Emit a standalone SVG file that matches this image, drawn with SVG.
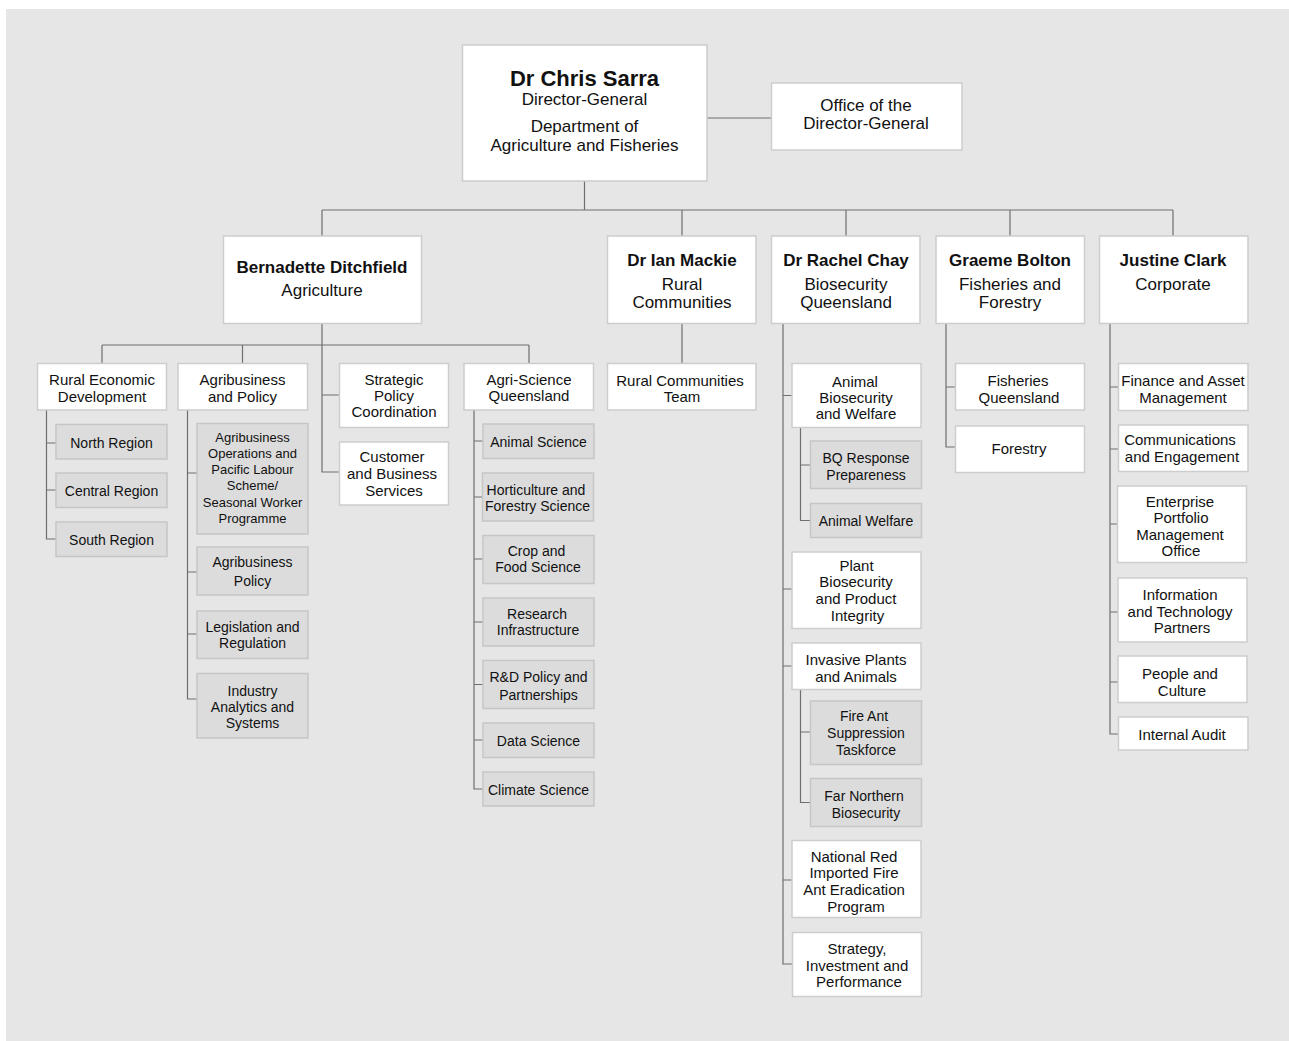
<svg xmlns="http://www.w3.org/2000/svg" width="1289" height="1041" viewBox="0 0 1289 1041">
<style>
text{font-family:"Liberation Sans",Arial,sans-serif;fill:#111;text-anchor:middle;dominant-baseline:central}
.w{fill:#fff;stroke:#cdcdcd;stroke-width:1.5}
.g{fill:#dcdcdc;stroke:#c6c6c6;stroke-width:1.5}
.c path{fill:none;stroke:#6e6e6e;stroke-width:1.2}
.b22{font-size:22px;font-weight:bold}
.b17{font-size:17px;font-weight:bold}
.t17{font-size:17px}
.t15{font-size:15px}
.t14{font-size:14px}
.t13{font-size:13px}
</style>
<rect x="6" y="9" width="1283" height="1032" fill="#e6e6e6"/>
<g class="c" id="connectors">
<path d="M707 118H771"/>
<path d="M584.5 181V210M322 210H1173M322 210V236M682 210V236M846 210V236M1010 210V236M1173 210V236"/>
<path d="M322 323V472H339M102 345H529M102 345V363M242.5 345V363M529 345V363M322 395H339"/>
<path d="M46.5 410V539H56M46.5 443H56M46.5 490H56"/>
<path d="M187.5 410V699H197M187.5 473H197M187.5 572H197M187.5 634H197"/>
<path d="M474 410V789H483M474 441H483M474 497H483M474 559H483M474 622H483M474 684.5H483M474 740H483"/>
<path d="M682 323V363"/>
<path d="M783 323V964H792M783 395.5H792M783 589H792M783 666H792M783 880H792"/>
<path d="M800.5 427V520.5H810M800.5 465H810"/>
<path d="M800.5 690V802.5H810M800.5 732H810"/>
<path d="M946 323V447H955M946 387H955"/>
<path d="M1110 323V734H1118M1110 387H1118M1110 449H1118M1110 524H1118M1110 612H1118M1110 682H1118"/>
</g>
<g id="dg"><rect class="w" x="462.5" y="45" width="244.5" height="136"/>
<text class="b22" x="584.5" y="78.5">Dr Chris Sarra</text>
<text class="t17" x="584.5" y="99">Director-General</text>
<text class="t17" x="584.5" y="126">Department of</text>
<text class="t17" x="584.5" y="145">Agriculture and Fisheries</text></g>
<g id="office"><rect class="w" x="771.5" y="83" width="190.5" height="67"/>
<text class="t17" x="866" y="105">Office of the</text>
<text class="t17" x="866" y="123">Director-General</text></g>
<g id="bernadette"><rect class="w" x="223.5" y="236" width="198" height="87.5"/>
<text class="b17" x="322" y="267">Bernadette Ditchfield</text>
<text class="t17" x="322" y="290">Agriculture</text></g>
<g id="ian"><rect class="w" x="607.5" y="236" width="148.5" height="87.5"/>
<text class="b17" x="682" y="260.5">Dr Ian Mackie</text>
<text class="t17" x="682" y="284">Rural</text>
<text class="t17" x="682" y="302">Communities</text></g>
<g id="rachel"><rect class="w" x="771.5" y="236" width="148.5" height="87.5"/>
<text class="b17" x="846" y="260.5">Dr Rachel Chay</text>
<text class="t17" x="846" y="284">Biosecurity</text>
<text class="t17" x="846" y="302">Queensland</text></g>
<g id="graeme"><rect class="w" x="936" y="236" width="148.5" height="87.5"/>
<text class="b17" x="1010" y="260.5">Graeme Bolton</text>
<text class="t17" x="1010" y="284">Fisheries and</text>
<text class="t17" x="1010" y="302">Forestry</text></g>
<g id="justine"><rect class="w" x="1099.5" y="236" width="148.5" height="87.5"/>
<text class="b17" x="1173" y="260.5">Justine Clark</text>
<text class="t17" x="1173" y="284">Corporate</text></g>

<g id="red"><rect class="w" x="37.5" y="363.5" width="129" height="46.5"/>
<text class="t15" x="102" y="379">Rural Economic</text><text class="t15" x="102" y="396">Development</text></g>
<g id="north"><rect class="g" x="56" y="424.5" width="111" height="34.5"/><text class="t14" x="111.5" y="443">North Region</text></g>
<g id="central"><rect class="g" x="56" y="473" width="111" height="34.5"/><text class="t14" x="111.5" y="490.5">Central Region</text></g>
<g id="south"><rect class="g" x="56" y="522" width="111" height="34.5"/><text class="t14" x="111.5" y="540">South Region</text></g>

<g id="abp"><rect class="w" x="178" y="363.5" width="129.5" height="46.5"/>
<text class="t15" x="242.5" y="379">Agribusiness</text><text class="t15" x="242.5" y="396">and Policy</text></g>
<g id="abops"><rect class="g" x="197" y="423.5" width="111" height="110.5"/>
<text class="t13" x="252.5" y="437.5">Agribusiness</text><text class="t13" x="252.5" y="453.5">Operations and</text><text class="t13" x="252.5" y="469.5">Pacific Labour</text><text class="t13" x="252.5" y="485.5">Scheme/</text><text class="t13" x="252.5" y="502">Seasonal Worker</text><text class="t13" x="252.5" y="518">Programme</text></g>
<g id="abpol"><rect class="g" x="197" y="547" width="111" height="48"/>
<text class="t14" x="252.5" y="562">Agribusiness</text><text class="t14" x="252.5" y="581">Policy</text></g>
<g id="leg"><rect class="g" x="197" y="611" width="111" height="47.5"/>
<text class="t14" x="252.5" y="626.5">Legislation and</text><text class="t14" x="252.5" y="642.5">Regulation</text></g>
<g id="ind"><rect class="g" x="197" y="673.5" width="111" height="64.5"/>
<text class="t14" x="252.5" y="691">Industry</text><text class="t14" x="252.5" y="707">Analytics and</text><text class="t14" x="252.5" y="723">Systems</text></g>

<g id="spc"><rect class="w" x="339.5" y="363.5" width="109" height="64"/>
<text class="t15" x="394" y="379">Strategic</text><text class="t15" x="394" y="395.5">Policy</text><text class="t15" x="394" y="411.5">Coordination</text></g>
<g id="cbs"><rect class="w" x="339.5" y="442" width="109" height="63"/>
<text class="t15" x="392" y="456.5">Customer</text><text class="t15" x="392" y="473.5">and Business</text><text class="t15" x="394" y="490.5">Services</text></g>

<g id="asq"><rect class="w" x="464" y="363.5" width="129.5" height="46.5"/>
<text class="t15" x="529" y="379">Agri-Science</text><text class="t15" x="529" y="395.5">Queensland</text></g>
<g id="as1"><rect class="g" x="483" y="424" width="111" height="34.5"/><text class="t14" x="538.5" y="442">Animal Science</text></g>
<g id="as2"><rect class="g" x="482.5" y="473" width="111" height="48"/><text class="t14" x="536" y="489.5">Horticulture and</text><text class="t14" x="537.5" y="505.5">Forestry Science</text></g>
<g id="as3"><rect class="g" x="483" y="535.5" width="111" height="48"/><text class="t14" x="536.5" y="551">Crop and</text><text class="t14" x="538" y="567">Food Science</text></g>
<g id="as4"><rect class="g" x="483" y="598" width="111" height="48"/><text class="t14" x="537" y="614">Research</text><text class="t14" x="538" y="630">Infrastructure</text></g>
<g id="as5"><rect class="g" x="483" y="660.5" width="111" height="48"/><text class="t14" x="538.5" y="677">R&amp;D Policy and</text><text class="t14" x="538.5" y="695">Partnerships</text></g>
<g id="as6"><rect class="g" x="483" y="723" width="111" height="34.5"/><text class="t14" x="538.5" y="740.5">Data Science</text></g>
<g id="as7"><rect class="g" x="483" y="772" width="111" height="34"/><text class="t14" x="538.5" y="790">Climate Science</text></g>

<g id="rct"><rect class="w" x="607.5" y="363.5" width="148.5" height="46.5"/>
<text class="t15" x="680" y="380">Rural Communities</text><text class="t15" x="682" y="396">Team</text></g>

<g id="abw"><rect class="w" x="792" y="363.5" width="129" height="64"/>
<text class="t15" x="855" y="381">Animal</text><text class="t15" x="856" y="397">Biosecurity</text><text class="t15" x="856" y="413.5">and Welfare</text></g>
<g id="bq"><rect class="g" x="810.5" y="441" width="111" height="47.5"/><text class="t14" x="866" y="458">BQ Response</text><text class="t14" x="866" y="475">Prepareness</text></g>
<g id="aw"><rect class="g" x="810.5" y="503.5" width="111" height="34"/><text class="t14" x="866" y="521">Animal Welfare</text></g>
<g id="pbpi"><rect class="w" x="792" y="552" width="129" height="76.5"/>
<text class="t15" x="856.5" y="565">Plant</text><text class="t15" x="856" y="581.5">Biosecurity</text><text class="t15" x="856" y="598">and Product</text><text class="t15" x="857.5" y="615">Integrity</text></g>
<g id="ipa"><rect class="w" x="792" y="643" width="129" height="46.5"/>
<text class="t15" x="856" y="659">Invasive Plants</text><text class="t15" x="856" y="676">and Animals</text></g>
<g id="fast"><rect class="g" x="810.5" y="701" width="111" height="63.5"/><text class="t14" x="864" y="716">Fire Ant</text><text class="t14" x="866" y="732.5">Suppression</text><text class="t14" x="866" y="750">Taskforce</text></g>
<g id="fnb"><rect class="g" x="810.5" y="778.5" width="111" height="48"/><text class="t14" x="864" y="796">Far Northern</text><text class="t14" x="866" y="812.5">Biosecurity</text></g>
<g id="nrifa"><rect class="w" x="792" y="840.5" width="129" height="77"/>
<text class="t15" x="854" y="856">National Red</text><text class="t15" x="854" y="872">Imported Fire</text><text class="t15" x="854" y="889">Ant Eradication</text><text class="t15" x="856" y="906.5">Program</text></g>
<g id="sip"><rect class="w" x="792.5" y="932.5" width="129" height="64"/>
<text class="t15" x="857" y="948">Strategy,</text><text class="t15" x="857" y="965">Investment and</text><text class="t15" x="859" y="981">Performance</text></g>

<g id="fq"><rect class="w" x="955.5" y="363.5" width="129" height="46.5"/>
<text class="t15" x="1018" y="380.5">Fisheries</text><text class="t15" x="1019" y="397">Queensland</text></g>
<g id="forestry"><rect class="w" x="955.5" y="426" width="129" height="46.5"/>
<text class="t15" x="1019" y="448.5">Forestry</text></g>

<g id="fam"><rect class="w" x="1118.5" y="363.5" width="129.5" height="47"/>
<text class="t15" x="1183" y="380.5">Finance and Asset</text><text class="t15" x="1183" y="397">Management</text></g>
<g id="ce"><rect class="w" x="1118.5" y="425" width="129.5" height="46.5"/>
<text class="t15" x="1180" y="439.5">Communications</text><text class="t15" x="1182" y="456.5">and Engagement</text></g>
<g id="epmo"><rect class="w" x="1117.5" y="486" width="129" height="76.5"/>
<text class="t15" x="1180" y="501">Enterprise</text><text class="t15" x="1181" y="517">Portfolio</text><text class="t15" x="1180" y="534">Management</text><text class="t15" x="1181" y="550">Office</text></g>
<g id="itp"><rect class="w" x="1118" y="578" width="129" height="64"/>
<text class="t15" x="1180" y="594">Information</text><text class="t15" x="1180" y="611">and Technology</text><text class="t15" x="1182" y="627">Partners</text></g>
<g id="pc"><rect class="w" x="1118" y="656" width="129" height="46.5"/>
<text class="t15" x="1180" y="673.5">People and</text><text class="t15" x="1182" y="690.5">Culture</text></g>
<g id="ia"><rect class="w" x="1118.5" y="717" width="129.5" height="33"/>
<text class="t15" x="1182" y="734">Internal Audit</text></g>
</svg>
